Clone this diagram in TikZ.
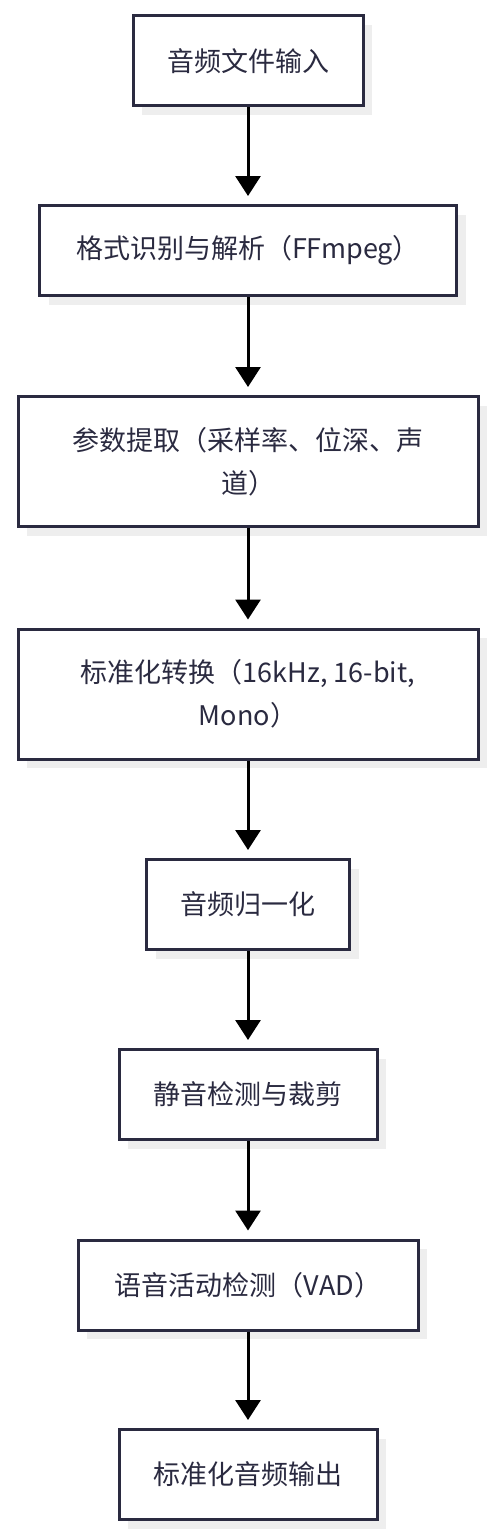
\documentclass[tikz,border=0pt]{standalone}
\usepackage{fontspec}
\setmainfont{Noto Sans CJK SC}
\usetikzlibrary{arrows.meta,shadows}
\definecolor{boxline}{RGB}{42,42,64}
\definecolor{shade}{RGB}{238,238,238}

\begin{document}
\begin{tikzpicture}[x=1pt, y=-1pt, flow/.style={line width=3pt, -{Triangle[length=20pt,width=25pt]}, shorten >=8pt}]
\tikzstyle{stp}=[draw=boxline, line width=3pt, fill=white, text=boxline, inner sep=0pt, align=center, minimum height=90pt, font=\fontsize{27}{43}\selectfont, drop shadow={shadow xshift=9pt, shadow yshift=-9pt, fill=shade, opacity=1}]
\useasboundingbox (0,0) rectangle (496,1536);
\node[stp, minimum width=230pt] (in) at (248,61) {音频文件输入};
\node[stp, minimum width=417pt] (fmt) at (248,250.5) {格式识别与解析（FFmpeg）};
\node[stp, minimum width=460pt, minimum height=130pt] (prm) at (248,461.5) {参数提取（采样率、位深、声\\道）};
\node[stp, minimum width=460pt, minimum height=130pt] (cnv) at (248,694) {标准化转换（16kHz, 16-bit,\\Mono）};
\node[stp, minimum width=203pt] (nrm) at (248,904.5) {音频归一化};
\node[stp, minimum width=258pt] (sil) at (248,1094.5) {静音检测与裁剪};
\node[stp, minimum width=340pt] (vad) at (248,1285) {语音活动检测（VAD）};
\node[stp, minimum width=258pt] (out) at (248,1474.5) {标准化音频输出};
\foreach \i/\j in {in/fmt,fmt/prm,prm/cnv,cnv/nrm,nrm/sil,sil/vad,vad/out}{\draw[flow] (\i) -- (\j);}
\end{tikzpicture}
\end{document}
